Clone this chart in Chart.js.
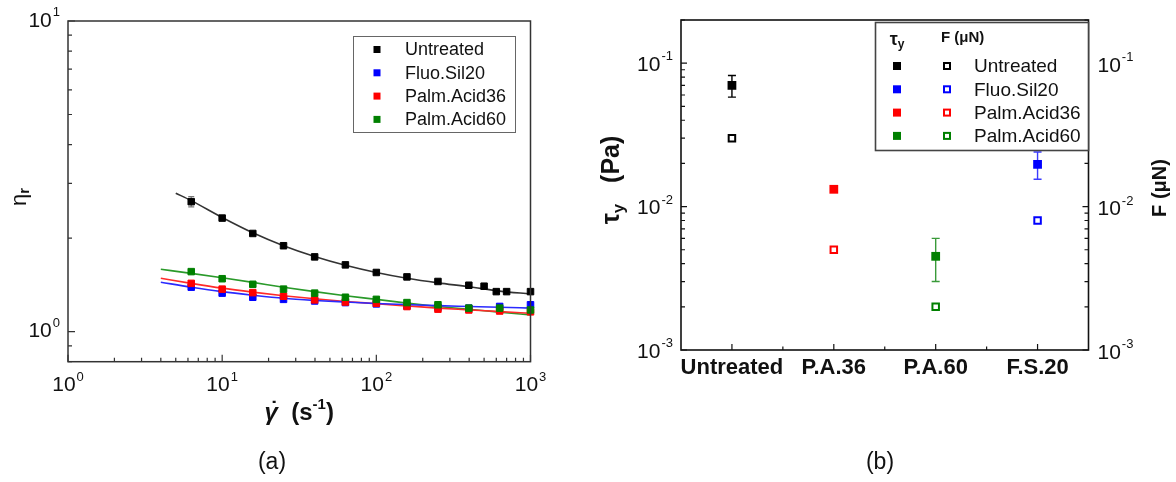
<!DOCTYPE html>
<html>
<head>
<meta charset="utf-8">
<script src="https://cdn.jsdelivr.net/npm/chart.js@4.4.1/dist/chart.umd.min.js"></script>
<style>
  html, body { margin: 0; padding: 0; background: #fff; }
  #wrap { position: relative; width: 1176px; height: 482px; overflow: hidden; }
  #chartA { position: absolute; left: 0; top: 0; }
  #chartB { position: absolute; left: 560px; top: 0; }
</style>
</head>
<body>
<div id="wrap">
  <canvas id="chartA" width="560" height="482"></canvas>
  <canvas id="chartB" width="616" height="482"></canvas>
</div>
<script>
// ---- panel (a): relative viscosity vs shear rate ----
const shearRate = [6.3, 10, 15.8, 25, 39.8, 63, 100, 158, 251, 398, 631, 1000];
const shearRateUntreated = [6.3, 10, 15.8, 25, 39.8, 63, 100, 158, 251, 398, 500, 600, 700, 1000];
const etaUntreated = [2.62, 2.32, 2.07, 1.89, 1.74, 1.64, 1.55, 1.50, 1.45, 1.41, 1.40, 1.345, 1.345, 1.345];
const etaUntreatedErr = [0.1, 0, 0, 0, 0, 0, 0, 0, 0, 0, 0, 0, 0, 0];
const etaFluoSil20 = [1.39, 1.33, 1.29, 1.27, 1.255, 1.24, 1.228, 1.21, 1.198, 1.19, 1.205, 1.22];
const etaPalmAcid36 = [1.43, 1.37, 1.335, 1.30, 1.265, 1.245, 1.234, 1.204, 1.181, 1.174, 1.165, 1.158];
const etaPalmAcid60 = [1.56, 1.48, 1.42, 1.37, 1.33, 1.29, 1.27, 1.24, 1.22, 1.19, 1.19, 1.174];

// fitted curves
const fitRate = [4, 6.3, 10, 15.8, 25, 39.8, 63, 100, 158, 251, 398, 631, 1000];
const fitRateUntreated = [5, 6.3, 10, 15.8, 25, 39.8, 63, 100, 158, 251, 398, 631, 1000];
const fitUntreated = [2.79, 2.64, 2.33, 2.08, 1.89, 1.745, 1.635, 1.55, 1.485, 1.435, 1.395, 1.35, 1.322];
const fitFluoSil20 = [1.442, 1.39, 1.345, 1.31, 1.28, 1.26, 1.245, 1.232, 1.222, 1.212, 1.205, 1.198, 1.19];
const fitPalmAcid36 = [1.486, 1.43, 1.38, 1.34, 1.305, 1.275, 1.25, 1.23, 1.21, 1.19, 1.175, 1.16, 1.146];
const fitPalmAcid60 = [1.588, 1.54, 1.49, 1.44, 1.39, 1.345, 1.305, 1.27, 1.235, 1.205, 1.18, 1.155, 1.132];

const xTicksA = [1, 10, 100, 1000];
const yTicksA = [1, 10];

// ---- panel (b): yield stress and adhesion force ----
const sampleLabels = ['Untreated', 'P.A.36', 'P.A.60', 'F.S.20'];
const sampleColors = ['#000000', '#ff0000', '#008000', '#0000ff'];
const errColors = ['#000000', '#ff0000', '#3a9a3a', '#3b3bff'];
const yieldStress = [0.070, 0.0132, 0.0045, 0.0197];
const yieldStressLow = [0.058, null, 0.003, 0.0155];
const yieldStressHigh = [0.082, null, 0.006, 0.024];
const adhesionForce = [0.030, 0.0050, 0.0020, 0.0080];
const yTicksB = [0.001, 0.01, 0.1];

// legend (shared order in both panels)
const legendNames = ['Untreated', 'Fluo.Sil20', 'Palm.Acid36', 'Palm.Acid60'];
const legendColors = ['#000000', '#0000ff', '#ff0000', '#008000'];

const FONT = '"Liberation Sans", Arial, sans-serif';

function logTicks(min, max) {
  const out = [];
  for (let e = Math.floor(Math.log10(min)); e <= Math.ceil(Math.log10(max)); e++) {
    for (let m = 1; m <= 9; m++) {
      const v = m * Math.pow(10, e);
      if (v >= min * 0.999 && v <= max * 1.001) out.push({ v, major: m === 1 });
    }
  }
  return out;
}

// "10" with a raised exponent
function drawPow(ctx, exp, x, y, size, align) {
  const base = size + 'px ' + FONT;
  const sup = Math.round(size * 0.64) + 'px ' + FONT;
  ctx.font = base; const w1 = ctx.measureText('10').width;
  ctx.font = sup; const w2 = ctx.measureText(exp).width;
  const total = w1 + 1 + w2;
  const x0 = align === 'right' ? x - total : align === 'center' ? x - total / 2 : x;
  ctx.textAlign = 'left'; ctx.textBaseline = 'middle';
  ctx.font = base; ctx.fillText('10', x0, y);
  ctx.font = sup; ctx.fillText(exp, x0 + w1 + 1, y - size * 0.4);
}

// draws a sequence of [text, font, dy] pieces, centred on (0,0); returns piece widths
function drawPieces(ctx, pieces) {
  let w = 0;
  pieces.forEach(p => { ctx.font = p[1]; p.w = ctx.measureText(p[0]).width; w += p.w; });
  let x = -w / 2;
  ctx.textAlign = 'left'; ctx.textBaseline = 'middle';
  pieces.forEach(p => { ctx.font = p[1]; p.x = x; ctx.fillText(p[0], x, p[2] || 0); x += p.w; });
  return pieces;
}

function square(ctx, x, y, s, color, open) {
  if (open) {
    ctx.strokeStyle = color; ctx.lineWidth = 2;
    ctx.strokeRect(x - s / 2 + 1, y - s / 2 + 1, s - 2, s - 2);
  } else {
    ctx.fillStyle = color;
    ctx.fillRect(x - s / 2, y - s / 2, s, s);
  }
}

const panelA = {
  id: 'panelA',
  beforeDatasetsDraw(chart) {
    const { ctx, scales: { x, y } } = chart;
    ctx.save();
    ctx.strokeStyle = '#777'; ctx.lineWidth = 1.2;
    shearRateUntreated.forEach((r, i) => {
      const e = etaUntreatedErr[i];
      if (!e) return;
      const px = x.getPixelForValue(r);
      const top = y.getPixelForValue(etaUntreated[i] + e);
      const bot = y.getPixelForValue(etaUntreated[i] - e);
      ctx.beginPath();
      ctx.moveTo(px, top); ctx.lineTo(px, bot);
      ctx.moveTo(px - 3, top); ctx.lineTo(px + 3, top);
      ctx.moveTo(px - 3, bot); ctx.lineTo(px + 3, bot);
      ctx.stroke();
    });
    ctx.restore();
  },
  afterDraw(chart) {
    const { ctx, chartArea: a, scales: { x, y } } = chart;
    ctx.save();
    ctx.strokeStyle = '#333'; ctx.lineWidth = 1.5;
    ctx.strokeRect(a.left, a.top, a.right - a.left, a.bottom - a.top);
    ctx.beginPath();
    logTicks(y.min, y.max).forEach(t => {
      const py = y.getPixelForValue(t.v);
      ctx.moveTo(a.left, py); ctx.lineTo(a.left + (t.major ? 7 : 4), py);
    });
    logTicks(x.min, x.max).forEach(t => {
      const px = x.getPixelForValue(t.v);
      ctx.moveTo(px, a.bottom); ctx.lineTo(px, a.bottom - (t.major ? 7 : 4));
    });
    ctx.lineWidth = 1.2; ctx.stroke();

    ctx.fillStyle = '#111';
    yTicksA.forEach(v => drawPow(ctx, String(Math.round(Math.log10(v))), a.left - 8, y.getPixelForValue(v), 21, 'right'));
    xTicksA.forEach(v => drawPow(ctx, String(Math.round(Math.log10(v))), x.getPixelForValue(v), a.bottom + 24, 21, 'center'));

    // axis titles
    ctx.save();
    ctx.translate(20, 197); ctx.rotate(-Math.PI / 2);
    drawPieces(ctx, [['\u03b7', '22px ' + FONT, 0], ['r', 'bold 15px ' + FONT, 5]]);
    ctx.restore();
    ctx.save();
    ctx.translate((a.left + a.right) / 2, 413);
    const t = drawPieces(ctx, [['\u03b3', 'italic bold 24px ' + FONT, 0], ['  (s', 'bold 24px ' + FONT, 0],
      ['-1', 'bold 15px ' + FONT, -8], [')', 'bold 24px ' + FONT, 0]]);
    ctx.font = 'bold 22px ' + FONT; ctx.textAlign = 'center';
    ctx.fillText('\u02d9', t[0].x + t[0].w / 2 + 3, -2);
    ctx.restore();
    ctx.font = '23px ' + FONT; ctx.textAlign = 'center'; ctx.textBaseline = 'middle';
    ctx.fillText('(a)', 272, 463);

    // legend
    ctx.strokeStyle = '#666'; ctx.lineWidth = 1;
    ctx.strokeRect(353.5, 36.5, 162, 96);
    legendNames.forEach((name, i) => {
      const ly = 49.5 + i * 23.3;
      square(ctx, 377, ly, 7, legendColors[i], false);
      ctx.fillStyle = '#111'; ctx.font = '18px ' + FONT;
      ctx.textAlign = 'left'; ctx.textBaseline = 'middle';
      ctx.fillText(name, 405, ly + 1);
    });
    ctx.restore();
  }
};

const panelB = {
  id: 'panelB',
  beforeDatasetsDraw(chart) {
    const { ctx, scales: { x, y } } = chart;
    ctx.save(); ctx.lineWidth = 1.4;
    yieldStress.forEach((v, i) => {
      if (yieldStressLow[i] == null) return;
      const px = x.getPixelForValue(i);
      const top = y.getPixelForValue(yieldStressHigh[i]);
      const bot = y.getPixelForValue(yieldStressLow[i]);
      ctx.strokeStyle = errColors[i];
      ctx.beginPath();
      ctx.moveTo(px, top); ctx.lineTo(px, bot);
      ctx.moveTo(px - 4, top); ctx.lineTo(px + 4, top);
      ctx.moveTo(px - 4, bot); ctx.lineTo(px + 4, bot);
      ctx.stroke();
    });
    ctx.restore();
  },
  afterDraw(chart) {
    const { ctx, chartArea: a, scales: { x, y, y2 } } = chart;
    ctx.save();
    ctx.strokeStyle = '#111'; ctx.lineWidth = 1.6;
    ctx.strokeRect(a.left, a.top, a.right - a.left, a.bottom - a.top);
    ctx.beginPath();
    logTicks(y.min, y.max).forEach(t => {
      const py = y.getPixelForValue(t.v);
      ctx.moveTo(a.left, py); ctx.lineTo(a.left + (t.major ? 6 : 4), py);
    });
    logTicks(y2.min, y2.max).forEach(t => {
      const py = y2.getPixelForValue(t.v);
      ctx.moveTo(a.right, py); ctx.lineTo(a.right - (t.major ? 6 : 4), py);
    });
    [0, 0.5, 1, 1.5, 2, 2.5, 3].forEach(v => {
      const px = x.getPixelForValue(v);
      ctx.moveTo(px, a.bottom); ctx.lineTo(px, a.bottom - (v % 1 === 0 ? 6 : 3.5));
    });
    ctx.lineWidth = 1.2; ctx.stroke();

    ctx.fillStyle = '#111';
    yTicksB.forEach(v => {
      const e = String(Math.round(Math.log10(v)));
      drawPow(ctx, e, a.left - 8, y.getPixelForValue(v) + 2, 21, 'right');
      drawPow(ctx, e, a.right + 9, y2.getPixelForValue(v) + 3, 21, 'left');
    });
    ctx.font = 'bold 22px ' + FONT; ctx.textAlign = 'center'; ctx.textBaseline = 'middle';
    sampleLabels.forEach((s, i) => ctx.fillText(s, x.getPixelForValue(i), a.bottom + 18));

    // axis titles
    ctx.save();
    ctx.translate(52, 180); ctx.rotate(-Math.PI / 2);
    drawPieces(ctx, [['\u03c4', 'bold 25px ' + FONT, 0], ['y', 'bold 17px ' + FONT, 7],
      ['   (Pa)', 'bold 25px ' + FONT, 0]]);
    ctx.restore();
    ctx.save();
    ctx.translate(600, 188); ctx.rotate(-Math.PI / 2);
    drawPieces(ctx, [['F (\u03bcN)', 'bold 20px ' + FONT, 0]]);
    ctx.restore();
    ctx.font = '23px ' + FONT; ctx.textAlign = 'center'; ctx.textBaseline = 'middle';
    ctx.fillText('(b)', 320, 463);

    // legend
    const lx = 875 - 560;
    ctx.fillStyle = '#fff';
    ctx.fillRect(lx, 22, 213, 128);
    ctx.strokeStyle = '#444'; ctx.lineWidth = 1.6;
    ctx.strokeRect(lx + 0.5, 22.5, 213, 128);
    ctx.fillStyle = '#111';
    ctx.save();
    ctx.translate(lx + 22, 40);
    drawPieces(ctx, [['\u03c4', 'bold 18px ' + FONT, 0], ['y', 'bold 12px ' + FONT, 5]]);
    ctx.restore();
    ctx.font = 'bold 15px ' + FONT; ctx.textAlign = 'left'; ctx.textBaseline = 'middle';
    ctx.fillText('F (\u03bcN)', lx + 66, 38);
    legendNames.forEach((name, i) => {
      const ly = 66 + i * 23.3;
      square(ctx, lx + 22, ly, 8, legendColors[i], false);
      square(ctx, lx + 72, ly, 8, legendColors[i], true);
      ctx.fillStyle = '#111'; ctx.font = '19px ' + FONT;
      ctx.textAlign = 'left'; ctx.textBaseline = 'middle';
      ctx.fillText(name, lx + 99, ly + 1);
    });
    ctx.restore();
  }
};

const xy = (xs, ys) => xs.map((v, i) => ({ x: v, y: ys[i] }));
const fitLine = (xs, ys, color) => ({
  data: xy(xs, ys), showLine: true, pointRadius: 0, borderColor: color,
  borderWidth: 1.6, cubicInterpolationMode: 'monotone', order: 2, clip: false
});
const marks = (xs, ys, color) => ({
  data: xy(xs, ys), pointStyle: 'rect', pointRadius: 4.6, borderWidth: 1,
  backgroundColor: color, borderColor: color, order: 1, clip: false
});

const hidden = dir => ({
  display: true, ticks: { display: false }, grid: { display: false }, border: { display: false },
  afterFit: s => { if (dir === 'x') s.height = 0; else s.width = 0; }
});

new Chart(document.getElementById('chartA'), {
  type: 'scatter',
  data: {
    datasets: [
      fitLine(fitRateUntreated, fitUntreated, '#333333'),
      fitLine(fitRate, fitFluoSil20, '#2a2aff'),
      fitLine(fitRate, fitPalmAcid36, '#ff2a2a'),
      fitLine(fitRate, fitPalmAcid60, '#2a9a2a'),
      marks(shearRateUntreated, etaUntreated, '#000000'),
      marks(shearRate, etaPalmAcid60, '#008000'),
      marks(shearRate, etaPalmAcid36, '#ff0000'),
      marks(shearRate, etaFluoSil20, '#0000ff')
    ]
  },
  options: {
    responsive: false, animation: false,
    layout: { padding: { left: 68, right: 29.5, top: 21, bottom: 120.3 } },
    plugins: { legend: { display: false }, tooltip: { enabled: false } },
    scales: {
      x: Object.assign({ type: 'logarithmic', min: 1, max: 1000 }, hidden('x')),
      y: Object.assign({ type: 'logarithmic', min: 0.8, max: 10 }, hidden('y'))
    }
  },
  plugins: [panelA]
});

new Chart(document.getElementById('chartB'), {
  type: 'scatter',
  data: {
    datasets: [
      {
        data: yieldStress.map((v, i) => ({ x: i, y: v })), yAxisID: 'y',
        pointStyle: 'rect', pointRadius: 6.2, borderWidth: 0,
        backgroundColor: sampleColors, borderColor: sampleColors, clip: false
      },
      {
        data: adhesionForce.map((v, i) => ({ x: i, y: v })), yAxisID: 'y2',
        pointStyle: 'rect', pointRadius: 4.6, borderWidth: 2,
        backgroundColor: '#ffffff', borderColor: sampleColors, clip: false
      }
    ]
  },
  options: {
    responsive: false, animation: false,
    layout: { padding: { left: 121, right: 87.5, top: 20, bottom: 132 } },
    plugins: { legend: { display: false }, tooltip: { enabled: false } },
    scales: {
      x: Object.assign({ type: 'linear', min: -0.5, max: 3.5 }, hidden('x')),
      y: Object.assign({ type: 'logarithmic', min: 0.001, max: 0.2, position: 'left' }, hidden('y')),
      y2: Object.assign({ type: 'logarithmic', min: 0.001, max: 0.2, position: 'right' }, hidden('y'))
    }
  },
  plugins: [panelB]
});
</script>
</body>
</html>
